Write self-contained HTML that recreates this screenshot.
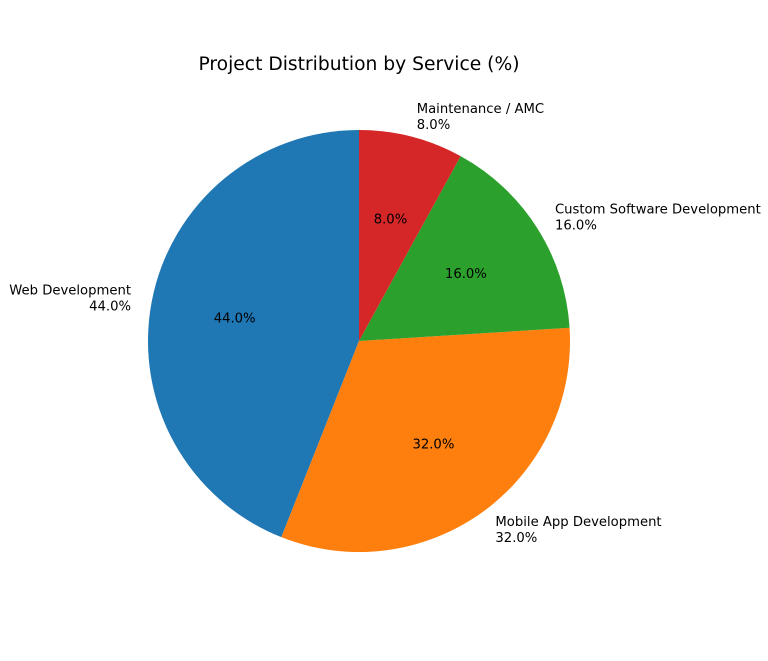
<!DOCTYPE html>
<html><head><meta charset="utf-8"><style>
body{margin:0;background:#fff;}
svg{display:block;font-family:"DejaVu Sans","Liberation Sans",sans-serif;}
</style></head><body>
<svg id="chart" width="768" height="661" viewBox="0 0 768 661">
<text x="359" y="70" text-anchor="middle" font-size="18.7" fill="#000">Project Distribution by Service (%)</text>
<g id="slices"></g>
</svg>
<script>
const categories = ["Web Development","Mobile App Development","Custom Software Development","Maintenance / AMC"];
const values = [44, 32, 16, 8];
const colors = ["#1f77b4","#ff7f0e","#2ca02c","#d62728"];
const cx = 359, cy = 341, r = 211;
const ns = "http://www.w3.org/2000/svg";
const g = document.getElementById("slices");
const total = values.reduce((a,b)=>a+b,0);
function pt(deg, rr){const a=deg*Math.PI/180;return [cx+rr*Math.cos(a), cy-rr*Math.sin(a)];}
let start = 90;
values.forEach((v,i)=>{
  const sweep = v/total*360, end = start+sweep;
  const [x1,y1]=pt(start,r),[x2,y2]=pt(end,r);
  const p=document.createElementNS(ns,"path");
  p.setAttribute("d",`M${cx},${cy} L${x1},${y1} A${r},${r} 0 ${sweep>180?1:0} 0 ${x2},${y2} Z`);
  p.setAttribute("fill",colors[i]);
  
  
  g.appendChild(p);
  const mid=start+sweep/2;
  const pct=(v/total*100).toFixed(1)+"%";
  const [px,py]=pt(mid,0.6*r);
  const t=document.createElementNS(ns,"text");
  t.setAttribute("x",px);t.setAttribute("y",py+5);
  t.setAttribute("text-anchor","middle");t.setAttribute("font-size","13.2");
  t.textContent=pct;
  
  
  g.appendChild(t);
  const [lx,ly]=pt(mid,1.1*r);
  const anchor=lx<cx?"end":"start";
  const lbl=document.createElementNS(ns,"text");
  lbl.setAttribute("font-size","13.2");lbl.setAttribute("text-anchor",anchor);
  const a=document.createElementNS(ns,"tspan");a.setAttribute("x",lx);a.setAttribute("y",ly-3);a.textContent=categories[i];
  const b=document.createElementNS(ns,"tspan");b.setAttribute("x",lx);b.setAttribute("y",ly+13);b.textContent=pct;
  lbl.appendChild(a);lbl.appendChild(b);
  
  
  g.appendChild(lbl);
  start=end;
});
</script>
</body></html>
